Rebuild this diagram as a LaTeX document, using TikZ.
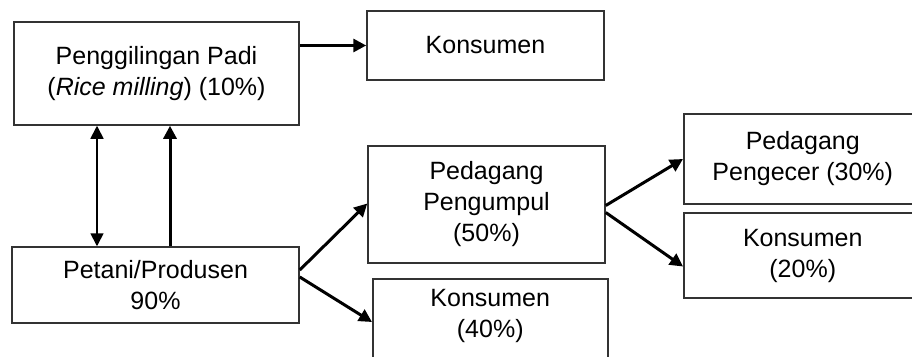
\documentclass[tikz,border=0pt]{standalone}
\usepackage{fontspec}
\setmainfont{Liberation Sans}
\usetikzlibrary{arrows.meta}
\begin{document}
\begin{tikzpicture}[x=1pt,y=-1pt,
  box/.style={draw=black!80, line width=1.5pt, inner sep=0pt, align=center,
    font=\fontsize{25}{31}\selectfont},
  label text/.style={inner sep=0pt, align=center, font=\fontsize{25}{31}\selectfont},
  flow/.style={line width=3pt, -{Triangle[length=13pt,width=13pt]}},
  link/.style={line width=1.7pt, {Triangle[length=13pt,width=13pt]}-{Triangle[length=13pt,width=13pt]}}]
\useasboundingbox (0,0) rectangle (912,356);
\fill[white] (0,0) rectangle (912,356);

% actors of the rice marketing channel
\node[box, minimum width=285pt, minimum height=103pt] (mill) at (156.5,73.5)
  {Penggilingan Padi\\(\textit{Rice milling}) (10\%)};
\node[box, minimum width=237pt, minimum height=69pt] (k1) at (485.5,45.5) {Konsumen};
\node[box, minimum width=287pt, minimum height=76pt] (farmer) at (155.5,285)
  {Petani/Produsen\\90\%};
\node[box, minimum width=237pt, minimum height=117pt] (coll) at (486.5,204.5)
  {Pedagang\\Pengumpul\\(50\%)};
\node[box, minimum width=235pt, minimum height=92pt, anchor=north west] (k40) at (372,278) {};
\node[label text, anchor=north] (k40text) at ([yshift=-11pt]k40.north) {Konsumen\\(40\%)};
\node[box, minimum width=238pt, minimum height=90pt, anchor=west] (retail) at (683,159)
  {Pedagang\\Pengecer (30\%)};
\node[box, minimum width=238pt, minimum height=85pt, anchor=west] (k20) at (683,255.5)
  {Konsumen\\(20\%)};

% flows between the actors
\coordinate (m1) at ([xshift=-59.5pt]mill.south);
\coordinate (m2) at ([xshift=13.5pt]mill.south);
\draw[link] (m1) -- (m1 |- farmer.north);
\draw[flow] (m2 |- farmer.north) -- (m2);
\draw[flow] (mill.east |- k1.west) -- (k1.west);
\draw[flow] ([yshift=15pt]farmer.east) -- ([yshift=1pt]coll.west);
\draw[flow] ([yshift=8pt]farmer.east) -- ([yshift=-44pt]k40.north west);
\draw[flow] ([yshift=-1pt]coll.east) -- (retail.west);
\draw[flow] ([yshift=-8pt]coll.east) -- ([yshift=-11pt]k20.west);
\end{tikzpicture}
\end{document}
